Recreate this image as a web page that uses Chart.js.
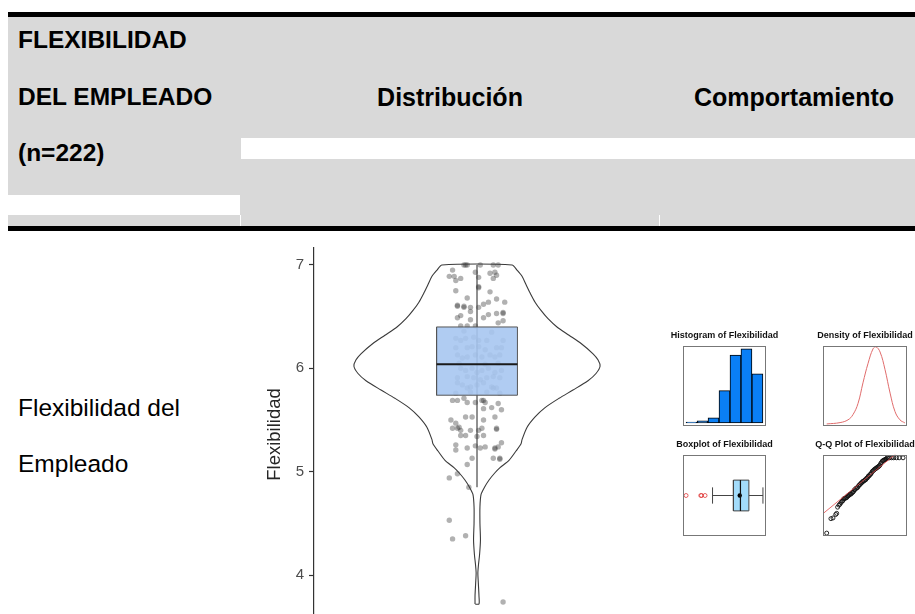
<!DOCTYPE html>
<html lang="es">
<head>
<meta charset="utf-8">
<title>Flexibilidad del empleado</title>
<script src="https://cdn.jsdelivr.net/npm/chart.js@4.4.1/dist/chart.umd.min.js"></script>
<style>
  html, body { margin: 0; padding: 0; background: #fff; overflow: hidden; }
  #page { position: relative; width: 915px; height: 614px; overflow: hidden;
          font-family: "Liberation Sans", Arial, sans-serif; color: #000; }
  #page > div, #page > canvas { position: absolute; }
  .hd { font-weight: bold; font-size: 25px; line-height: 28px; white-space: nowrap; }
  .hd.c1 { font-size: 24.5px; }
  .rowlabel { font-size: 24.5px; line-height: 28px; white-space: nowrap; }
</style>
</head>
<body>
<div id="page">
  <!-- header band -->
  <div style="left:8px;top:17px;width:907px;height:209px;background:#d9d9d9"></div>
  <div style="left:8px;top:12px;width:907px;height:5px;background:#000"></div>
  <div style="left:8px;top:226px;width:907px;height:5px;background:#000"></div>
  <div style="left:241px;top:138px;width:674px;height:21px;background:#fff"></div>
  <div style="left:8px;top:195px;width:232px;height:20px;background:#fff"></div>
  <div style="left:240px;top:215px;width:1px;height:11px;background:#fff"></div>
  <div style="left:659px;top:215px;width:1px;height:11px;background:#fff"></div>

  <div class="hd c1" style="left:18px;top:26px">FLEXIBILIDAD</div>
  <div class="hd c1" style="left:18px;top:83px">DEL EMPLEADO</div>
  <div class="hd c1" style="left:18px;top:139px">(n=222)</div>
  <div class="hd" style="left:241px;top:83px;width:418px;text-align:center">Distribución</div>
  <div class="hd" style="left:673px;top:83px;width:242px;text-align:center">Comportamiento</div>

  <div class="rowlabel" style="left:18px;top:394px">Flexibilidad del</div>
  <div class="rowlabel" style="left:18px;top:450px">Empleado</div>

  <canvas id="violinChart" width="395" height="390" style="left:255px;top:240px"></canvas>
  <canvas id="histChart" width="121" height="106" style="left:664px;top:324px"></canvas>
  <canvas id="densChart" width="110" height="106" style="left:810px;top:324px"></canvas>
  <canvas id="boxChart" width="121" height="108" style="left:664px;top:433px"></canvas>
  <canvas id="qqChart" width="110" height="108" style="left:810px;top:433px"></canvas>
</div>
<script>
// --- data ---
const yTicks = [4, 5, 6, 7];

// violin outline: value and relative half-width (1 = widest)
const violinY = [3.72, 3.80, 3.92, 4.02, 4.10, 4.20, 4.34, 4.50, 4.66, 4.78,
                 4.85, 4.92, 4.99, 5.04, 5.11, 5.20, 5.27, 5.31, 5.43, 5.53,
                 5.62, 5.71, 5.79, 5.88, 5.95, 6.02, 6.08, 6.14, 6.24, 6.32,
                 6.40, 6.48, 6.56, 6.64, 6.73, 6.81, 6.89, 6.95, 7.00];
const violinW = [0.016, 0.016, 0.011, 0.007, 0.012, 0.021, 0.028, 0.024, 0.024, 0.033,
                 0.061, 0.098, 0.146, 0.187, 0.260, 0.317, 0.358, 0.366, 0.407, 0.472,
                 0.553, 0.667, 0.780, 0.902, 0.967, 1.000, 0.984, 0.943, 0.846, 0.748,
                 0.650, 0.577, 0.520, 0.472, 0.431, 0.398, 0.366, 0.325, 0.285];

// boxplot summary
const boxQ1 = 5.74, boxMedian = 6.04, boxQ3 = 6.40, whiskerLow = 4.85, whiskerHigh = 7.00, boxMean = 6.01;
const outliers = [3.72, 4.35, 4.38, 4.53];

// jittered observations: [horizontal jitter, value]
const jitterPoints = [
  [-0.07, 7.00], [-0.06, 7.00], [-0.08, 7.00], [0.02, 7.00], [0.10, 7.00], [0.13, 7.00],
  [-0.15, 6.95], [-0.17, 6.89], [-0.14, 6.89], [-0.13, 6.85], [-0.10, 6.87], [-0.01, 6.93],
  [0.01, 6.88], [0.08, 6.92], [0.11, 6.93], [0.12, 6.90], [0.10, 6.87], [0.01, 6.79],
  [0.01, 6.78], [-0.13, 6.75], [0.08, 6.74], [-0.06, 6.68], [0.12, 6.67], [-0.12, 6.60],
  [-0.12, 6.61], [-0.08, 6.59], [-0.08, 6.60], [-0.04, 6.59], [0.01, 6.59], [0.04, 6.62],
  [0.07, 6.64], [0.17, 6.64], [0.16, 6.53], [0.16, 6.54], [0.12, 6.53], [0.07, 6.52],
  [0.04, 6.49], [-0.10, 6.51], [-0.12, 6.49], [-0.04, 6.55], [-0.04, 6.47], [0.16, 6.46],
  [0.13, 6.44], [-0.10, 6.41], [-0.06, 6.41], [-0.01, 6.41],
  [-0.08, 6.36], [0.09, 6.35], [-0.13, 6.29], [-0.10, 6.27], [-0.07, 6.29], [-0.02, 6.30],
  [0.01, 6.27], [0.06, 6.27], [0.16, 6.27], [-0.13, 6.20], [-0.06, 6.20], [-0.03, 6.21],
  [0.01, 6.21], [0.05, 6.18], [0.12, 6.20], [0.15, 6.20], [-0.12, 6.13], [-0.09, 6.10],
  [-0.06, 6.11], [-0.01, 6.13], [0.03, 6.11], [0.08, 6.13], [0.11, 6.11], [0.14, 6.13],
  [0.13, 6.05], [-0.11, 6.05], [0.05, 6.04], [-0.10, 6.00], [-0.07, 5.98], [-0.03, 6.00],
  [0.00, 5.96], [0.03, 5.98], [0.07, 6.00], [0.11, 5.96], [0.15, 5.98], [-0.12, 5.91],
  [-0.06, 5.92], [-0.02, 5.91], [0.02, 5.89], [0.06, 5.91], [0.10, 5.92], [0.14, 5.91],
  [-0.12, 5.86], [-0.09, 5.84], [-0.04, 5.82], [0.00, 5.84], [0.04, 5.86], [0.09, 5.82],
  [0.12, 5.81], [-0.06, 5.81], [0.10, 5.81], [-0.04, 5.77], [0.06, 5.77], [0.14, 5.76],
  [-0.13, 5.76],
  [-0.15, 5.69], [-0.12, 5.69], [-0.08, 5.71], [-0.06, 5.67], [-0.01, 5.67], [0.03, 5.69],
  [0.04, 5.69], [0.05, 5.67], [0.13, 5.66], [0.04, 5.61], [0.09, 5.62], [0.11, 5.53],
  [0.15, 5.60], [-0.07, 5.53], [-0.03, 5.53], [0.04, 5.50], [-0.16, 5.50], [-0.13, 5.47],
  [-0.15, 5.42], [-0.12, 5.42], [-0.11, 5.43], [-0.10, 5.40], [-0.04, 5.40], [0.01, 5.40],
  [0.03, 5.42], [0.12, 5.42], [0.12, 5.41], [-0.10, 5.35], [-0.07, 5.35], [0.00, 5.34],
  [0.04, 5.35], [-0.13, 5.26], [-0.13, 5.21], [-0.06, 5.23], [-0.01, 5.25], [0.02, 5.23],
  [0.05, 5.24], [0.11, 5.23], [0.11, 5.22], [0.13, 5.24], [0.15, 5.28], [0.10, 5.13],
  [0.14, 5.13], [0.14, 5.12], [-0.03, 5.13], [-0.06, 5.07], [-0.17, 4.94], [-0.12, 4.98],
  [-0.05, 4.85], [-0.17, 4.53], [-0.15, 4.35], [-0.07, 4.38], [0.16, 3.74]
];

// histogram
const histStart = [3.5, 4.0, 4.5, 5.0, 5.5, 6.0, 6.5];
const histCount = [1, 2, 5, 31, 65, 71, 47];
const HIST_BIN = 0.5;

// density curve
const densX = [3.05, 3.81, 4.26, 4.54, 4.83, 5.11, 5.40, 5.68, 5.85, 6.08, 6.36, 6.65, 6.93, 7.21, 7.49];
const densY = [0.000, 0.013, 0.040, 0.090, 0.200, 0.400, 0.590, 0.730, 0.750, 0.700, 0.530, 0.300, 0.120, 0.040, 0.010];

// Q-Q plot
const qqTheo = [-2.80, -2.49, -2.34, -2.14, -2.07, -2.00, -1.90, -1.83, -1.75, -1.68,
                -1.62, -1.56, -1.50, -1.44, -1.38, -1.32, -1.26, -1.20, -1.14, -1.08,
                -1.02, -0.96, -0.90, -0.84, -0.78, -0.72, -0.66, -0.60, -0.54, -0.48,
                -0.42, -0.36, -0.30, -0.24, -0.18, -0.12, -0.06, 0.00, 0.06, 0.12,
                0.18, 0.24, 0.30, 0.36, 0.42, 0.48, 0.54, 0.60, 0.66, 0.72,
                0.78, 0.84, 0.90, 0.96, 1.02, 1.08, 1.14, 1.20, 1.26, 1.32,
                1.38, 1.44, 1.50, 1.56, 1.62, 1.70, 1.80, 1.95, 2.10, 2.30, 2.50, 2.78];
const qqSample = [3.72, 4.35, 4.38, 4.53, 4.58, 4.85, 4.94, 4.98, 5.05, 5.11,
                  5.13, 5.21, 5.23, 5.24, 5.26, 5.28, 5.34, 5.35, 5.40, 5.42,
                  5.42, 5.47, 5.50, 5.53, 5.60, 5.62, 5.67, 5.69, 5.71, 5.77,
                  5.81, 5.84, 5.89, 5.91, 5.96, 5.98, 6.00, 6.04, 6.05, 6.11,
                  6.13, 6.20, 6.21, 6.27, 6.29, 6.35, 6.41, 6.44, 6.47, 6.51,
                  6.53, 6.55, 6.59, 6.60, 6.64, 6.67, 6.74, 6.79, 6.85, 6.88,
                  6.89, 6.92, 6.93, 6.95, 7.00, 7.00, 7.00, 7.00, 7.00, 7.00, 7.00, 7.00];
const qqLine = [[-3.2, 4.505], [3.2, 7.635]];

// --- look ---
Chart.defaults.font.family = "'Liberation Sans', Arial, sans-serif";
const VIOLIN_HALF = 0.755;   // x units of widest violin point
const BOX_HALF = 0.248;

function seg(points, color, width, order) {
  return { data: points, showLine: true, borderColor: color, borderWidth: width,
           pointRadius: 0, fill: false, order: order };
}

// Violin Chart
const violinLeft = violinY.map((y, i) => ({ x: -violinW[i] * VIOLIN_HALF, y }));
const violinRight = violinY.map((y, i) => ({ x: violinW[i] * VIOLIN_HALF, y })).reverse();
const violinPath = violinLeft.concat(violinRight, [violinLeft[0]]);
const boxRect = [
  { x: -BOX_HALF, y: boxQ1 }, { x: BOX_HALF, y: boxQ1 }, { x: BOX_HALF, y: boxQ3 },
  { x: -BOX_HALF, y: boxQ3 }, { x: -BOX_HALF, y: boxQ1 }
];

const violinCtx = document.getElementById("violinChart").getContext("2d");
const violinChart = new Chart(violinCtx, {
  type: "scatter",
  data: {
    datasets: [
      seg([{ x: -BOX_HALF, y: boxMedian }, { x: BOX_HALF, y: boxMedian }], "#1a1a1a", 2, 0),
      seg(boxRect, "#555", 1, 1),
      { data: [{ x: -BOX_HALF, y: boxQ3 }, { x: BOX_HALF, y: boxQ3 }], showLine: true,
        borderWidth: 0, pointRadius: 0, fill: "+1", backgroundColor: "rgba(167,199,241,0.9)", order: 2 },
      { data: [{ x: -BOX_HALF, y: boxQ1 }, { x: BOX_HALF, y: boxQ1 }], showLine: true,
        borderWidth: 0, pointRadius: 0, fill: false, order: 3 },
      { data: jitterPoints.map(p => ({ x: p[0], y: p[1] })), showLine: false,
        pointRadius: 2.7, pointBorderWidth: 0, backgroundColor: "rgba(60,60,60,0.4)", order: 4 },
      seg([{ x: 0, y: whiskerLow }, { x: 0, y: whiskerHigh }], "#222", 1, 5),
      Object.assign(seg(violinPath, "#3a3a3a", 1.1, 6), { tension: 0.25 }),
    ],
  },
  options: {
    responsive: false,
    animation: false,
    layout: { padding: { left: 0, right: 10, top: 8, bottom: 9 } },
    plugins: { legend: { display: false }, tooltip: { enabled: false } },
    scales: {
      x: { type: "linear", display: false, min: -1, max: 1 },
      y: {
        type: "linear", min: 3.556, max: 7.164,
        afterBuildTicks: (s) => { s.ticks = yTicks.map(v => ({ value: v })); },
        afterFit: (s) => { s.width = 59; s.paddingTop = 0; s.paddingBottom = 0; },
        border: { display: true, color: "#333", width: 1.2 },
        grid: { drawOnChartArea: false, tickLength: 5, tickColor: "#333", tickWidth: 1.2 },
        ticks: { color: "#4d4d4d", font: { size: 15 }, padding: 5 },
        title: { display: true, text: "Flexibilidad", color: "#262626", font: { size: 18.5 },
                 padding: { top: 9, bottom: 0 } },
      },
    },
  },
});

// small panels
const framePlugin = {
  id: "frame",
  afterDraw(chart) {
    const { ctx, chartArea: a } = chart;
    ctx.save();
    ctx.strokeStyle = "#777";
    ctx.lineWidth = 1;
    ctx.strokeRect(Math.round(a.left) + 0.5, Math.round(a.top) + 0.5,
                   Math.round(a.right - a.left) - 1, Math.round(a.bottom - a.top) - 1);
    ctx.restore();
  },
};

// empty side axes keep the plot frame narrower than the title row
function sideAxis(position, pad, range) {
  const s = {
    type: "linear", position: position, display: true,
    ticks: { display: false }, grid: { display: false, drawTicks: false }, border: { display: false },
    afterFit: (sc) => { sc.width = pad; sc.paddingTop = 0; sc.paddingBottom = 0; },
  };
  if (range) { s.min = range[0]; s.max = range[1]; }
  return s;
}

function miniChart(id, title, type, datasets, xr, yr, pad) {
  return new Chart(document.getElementById(id).getContext("2d"), {
    type: type,
    data: { datasets: datasets },
    options: {
      responsive: false,
      animation: false,
      layout: { padding: { left: 0, right: 0, top: 0, bottom: 4 } },
      plugins: {
        legend: { display: false },
        tooltip: { enabled: false },
        title: { display: true, text: title, color: "#111", font: { size: 9, weight: "bold" },
                 padding: { top: 6, bottom: 5 } },
      },
      scales: {
        x: { type: "linear", display: false, min: xr[0], max: xr[1], offset: false, ticks: { stepSize: 1 } },
        y: sideAxis("left", pad, yr),
        y2: sideAxis("right", pad, null),
      },
    },
    plugins: [framePlugin],
  });
}

// Histogram
const histChart = miniChart("histChart", "Histogram of Flexibilidad", "bar", [{
  data: histStart.map((s, i) => ({ x: s + HIST_BIN / 2, y: histCount[i] })),
  backgroundColor: "#0a7ff5", borderColor: "#000", borderWidth: 1, borderSkipped: false,
  barPercentage: 1, categoryPercentage: 1,
}], [3.36, 7.14], [-2.84, 73.84], 19);

// Density
const densChart = miniChart("densChart", "Density of Flexibilidad", "scatter", [
  Object.assign(seg(densX.map((x, i) => ({ x, y: densY[i] })), "#e06c6c", 1, 0), { tension: 0.4 }),
], [2.84, 7.61], [-0.02, 0.76], 13);

// Boxplot (horizontal)
const BOX_H = 0.378, CAP_H = 0.2;
const boxChart = miniChart("boxChart", "Boxplot of Flexibilidad", "scatter", [
  seg([{ x: boxMedian, y: 1 - BOX_H }, { x: boxMedian, y: 1 + BOX_H }], "#111", 1.2, 0),
  { data: [{ x: boxMean, y: 1 }], showLine: false, pointRadius: 2.2, pointBorderWidth: 0,
    backgroundColor: "#000", order: 0 },
  seg([{ x: boxQ1, y: 1 - BOX_H }, { x: boxQ3, y: 1 - BOX_H }, { x: boxQ3, y: 1 + BOX_H },
       { x: boxQ1, y: 1 + BOX_H }, { x: boxQ1, y: 1 - BOX_H }], "#444", 1, 1),
  { data: [{ x: boxQ1, y: 1 + BOX_H }, { x: boxQ3, y: 1 + BOX_H }], showLine: true, borderWidth: 0,
    pointRadius: 0, fill: "+1", backgroundColor: "#a3dcfb", order: 2 },
  { data: [{ x: boxQ1, y: 1 - BOX_H }, { x: boxQ3, y: 1 - BOX_H }], showLine: true, borderWidth: 0,
    pointRadius: 0, fill: false, order: 3 },
  seg([{ x: whiskerLow, y: 1 }, { x: boxQ1, y: 1 }], "#444", 1, 4),
  seg([{ x: boxQ3, y: 1 }, { x: whiskerHigh, y: 1 }], "#444", 1, 4),
  seg([{ x: whiskerLow, y: 1 - CAP_H }, { x: whiskerLow, y: 1 + CAP_H }], "#444", 1, 4),
  seg([{ x: whiskerHigh, y: 1 - CAP_H }, { x: whiskerHigh, y: 1 + CAP_H }], "#444", 1, 4),
  { data: outliers.map(v => ({ x: v, y: 1 })), showLine: false, pointRadius: 2, pointBorderWidth: 0.8,
    borderColor: "#e03a3a", backgroundColor: "rgba(0,0,0,0)", order: 5 },
], [3.59, 7.13], [0, 2], 19);

// Q-Q plot
const qqChart = miniChart("qqChart", "Q-Q Plot of Flexibilidad", "scatter", [
  seg(qqLine.map(p => ({ x: p[0], y: p[1] })), "#e04848", 0.8, 0),
  { data: qqTheo.map((t, i) => ({ x: t, y: qqSample[i] })), showLine: false, pointRadius: 2,
    pointBorderWidth: 0.9, borderColor: "#111", backgroundColor: "rgba(0,0,0,0)", order: 1 },
], [-3.07, 3.07], [3.59, 7.13], 13);
</script>
</body>
</html>
